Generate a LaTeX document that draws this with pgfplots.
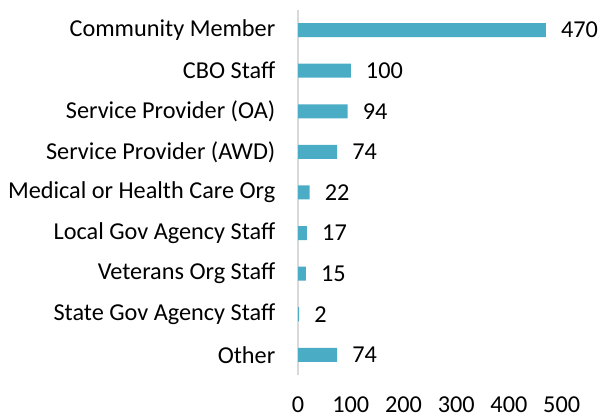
\documentclass[border={6bp 4bp 3bp 9bp}]{standalone}
\usepackage{fontspec}
\setmainfont{Carlito}
\usepackage{pgfplots}
\pgfplotsset{compat=1.18}
\definecolor{barc}{HTML}{4BACC6}
\definecolor{axc}{HTML}{D9D9D9}
\begin{document}
\begin{tikzpicture}
\begin{axis}[
  xbar,
  scale only axis,
  width=263bp, height=364.5bp,
  xmin=0, xmax=500, ymin=-0.5, ymax=8.5,
  y dir=reverse,
  axis lines*=left,
  x axis line style={draw=none},
  y axis line style={draw=axc, line width=1.5bp},
  major tick length=0pt,
  ytick={0,...,8},
  yticklabels={Community Member\hspace{6bp},CBO Staff,Service Provider (OA),Service Provider (AWD),Medical or Health Care Org\hspace{6bp},Local Gov Agency Staff\hspace{6bp},Veterans Org Staff,State Gov Agency Staff,Other\hspace{6bp}},
  xtick={0,100,...,500},
  /pgf/number format/assume math mode=true,
  tick label style={font=\fontsize{24.3}{28}\selectfont, text=black},
  xticklabel style={inner sep=2bp, yshift=-19bp},
  yticklabel style={inner sep=2bp, xshift=-20.5bp},
  bar width=14bp,
  clip=false,
  nodes near coords,
  nodes near coords align={horizontal},
  nodes near coords style={font=\fontsize{24.3}{28}\selectfont, text=black, anchor=west, inner sep=2bp, xshift=13bp},
]
\addplot[fill=barc, draw=none] coordinates {
(470,0) (100,1) (94,2) (74,3) (22,4) (17,5) (15,6) (2,7) (74,8)
};
\end{axis}
\end{tikzpicture}
\end{document}
